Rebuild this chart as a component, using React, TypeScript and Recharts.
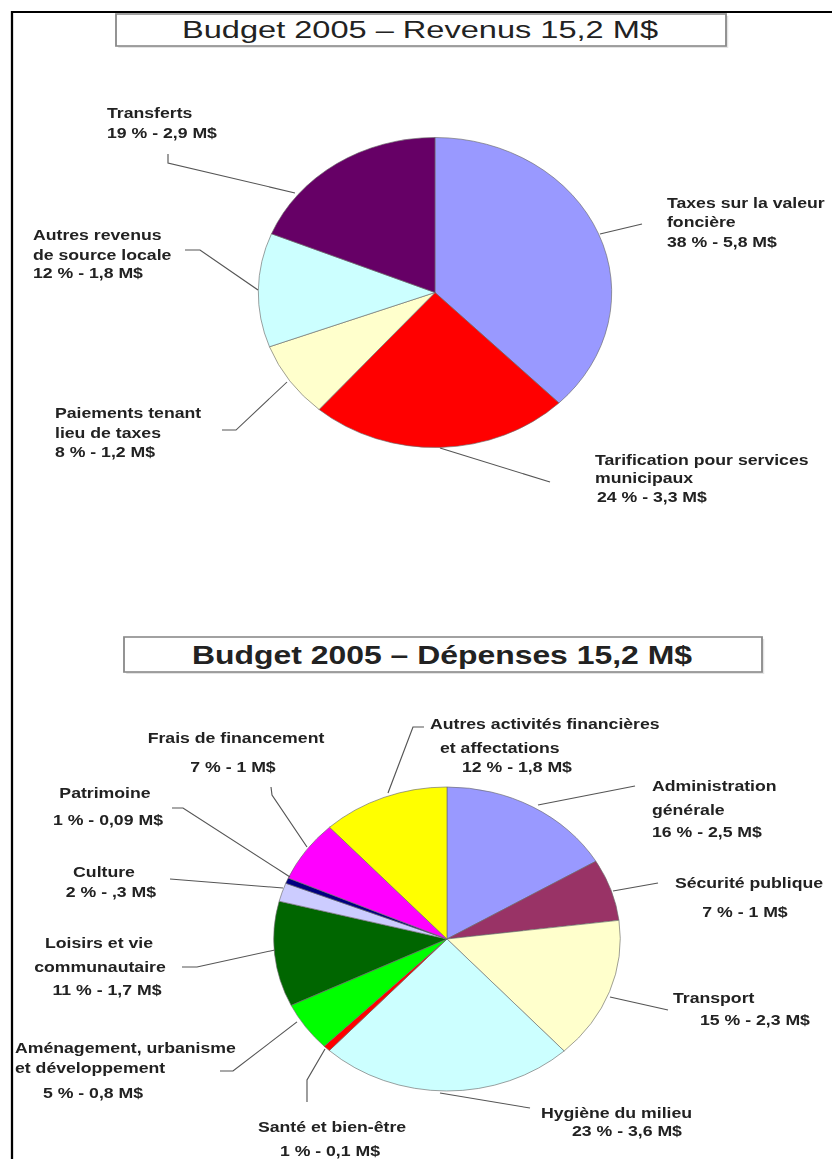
import React from 'react';
import { PieChart, Pie, Cell } from 'recharts';

// the scanned page is stretched sideways, so everything is drawn narrow and widened once
const S = 1.14;
const W = 832;
const H = 1159;
const IW = W / S;

// Revenus
const revNames = [
  'Taxes sur la valeur\nfoncière',
  'Tarification pour services\nmunicipaux',
  'Paiements tenant\nlieu de taxes',
  'Autres revenus\nde source locale',
  'Transferts',
];
const revPct = [38, 24, 8, 12, 19];
const revAmounts = ['5,8', '3,3', '1,2', '1,8', '2,9'];
const revColors = ['#9999FF', '#FF0000', '#FFFFCC', '#CCFFFF', '#660066'];

// Dépenses
const depNames = [
  'Administration\ngénérale',
  'Sécurité publique',
  'Transport',
  'Hygiène du milieu',
  'Santé et bien-être',
  'Aménagement, urbanisme\net développement',
  'Loisirs et vie\ncommunautaire',
  'Culture',
  'Patrimoine',
  'Frais de financement',
  'Autres activités financières\net affectations',
];
const depValues = [2.5, 1, 2.3, 3.6, 0.1, 0.8, 1.7, 0.3, 0.09, 1, 1.8];
const depPct = [16, 7, 15, 23, 1, 5, 11, 2, 1, 7, 12];
const depAmounts = ['2,5', '1', '2,3', '3,6', '0,1', '0,8', '1,7', ',3', '0,09', '1', '1,8'];
const depColors = [
  '#9999FF', '#993366', '#FFFFCC', '#CCFFFF', '#FF0000', '#00FF00',
  '#006600', '#CCCCFF', '#000080', '#FF00FF', '#FFFF00',
];

const revData = revNames.map((name, i) => ({ name, value: revPct[i] }));
const depData = depNames.map((name, i) => ({ name, value: depValues[i] }));

// label placement on the page (line centres) and leader lines
type LabelPos = { anchor: 'start' | 'middle'; lines: number[][]; leader: number[][] };

const revLabelPos: LabelPos[] = [
  { anchor: 'start', lines: [[667, 203], [667, 222], [667, 242]], leader: [[600, 234], [642, 224]] },
  { anchor: 'start', lines: [[595, 460], [595, 478], [597, 497]], leader: [[440, 448], [550, 482]] },
  { anchor: 'start', lines: [[55, 413], [55, 433], [55, 452]], leader: [[222, 430], [236, 430], [287, 382]] },
  { anchor: 'start', lines: [[33, 235], [33, 255], [33, 273]], leader: [[185, 250], [200, 250], [258, 290]] },
  { anchor: 'start', lines: [[107, 113], [107, 133]], leader: [[168, 154], [168, 163], [295, 193]] },
];

const depLabelPos: LabelPos[] = [
  { anchor: 'start', lines: [[652, 786], [652, 810], [652, 832]], leader: [[538, 805], [635, 786]] },
  { anchor: 'middle', lines: [[749, 883], [745, 912]], leader: [[613, 891], [658, 883]] },
  { anchor: 'start', lines: [[673, 998], [700, 1020]], leader: [[610, 997], [668, 1010]] },
  { anchor: 'start', lines: [[541, 1113], [572, 1131]], leader: [[440, 1093], [530, 1108]] },
  { anchor: 'middle', lines: [[332, 1127], [330, 1151]], leader: [[325, 1049], [307, 1080], [307, 1102]] },
  { anchor: 'start', lines: [[15, 1048], [15, 1068], [43, 1093]], leader: [[220, 1071], [233, 1071], [297, 1022]] },
  { anchor: 'middle', lines: [[99, 943], [100, 967], [107, 990]], leader: [[182, 967], [197, 967], [275, 950]] },
  { anchor: 'middle', lines: [[104, 872], [111, 892]], leader: [[170, 879], [283, 888]] },
  { anchor: 'middle', lines: [[105, 793], [108, 820]], leader: [[172, 808], [183, 808], [290, 877]] },
  { anchor: 'middle', lines: [[236, 738], [233, 767]], leader: [[271, 787], [272, 795], [307, 847]] },
  { anchor: 'start', lines: [[430, 724], [440, 748], [462, 767]], leader: [[424, 727], [413, 727], [388, 793]] },
];

const labelFont = "'Liberation Sans', Arial, sans-serif";

function makeLabel(names: string[], pct: number[], amounts: string[], pos: LabelPos[]) {
  return (props: any) => {
    const i = props.index;
    const p = pos[i];
    const texts = [...names[i].split('\n'), `${pct[i]} % - ${amounts[i]} M$`];
    return (
      <g key={`lbl-${i}`}>
        <polyline
          points={p.leader.map(([x, y]) => `${x / S},${y}`).join(' ')}
          fill="none"
          stroke="#555"
          strokeWidth={1}
        />
        {texts.map((t, j) => (
          <text
            key={j}
            x={p.lines[j][0] / S}
            y={p.lines[j][1] + 5}
            textAnchor={p.anchor}
            fontFamily={labelFont}
            fontWeight="bold"
            fontSize={15.5}
            fill="#222"
          >
            {t}
          </text>
        ))}
      </g>
    );
  };
}

function TitleBox({ x1, x2, y1, y2, text, textX, textW, baseline, size, weight }: any) {
  return (
    <g>
      <rect x={x1 / S + 2} y={y1 + 2} width={(x2 - x1) / S} height={y2 - y1} fill="#e4e4e4" />
      <rect x={x1 / S} y={y1} width={(x2 - x1) / S} height={y2 - y1} fill="#fff" stroke="#8a8a8a" strokeWidth={1.6} />
      <text
        x={textX / S}
        y={baseline}
        textAnchor="middle"
        fontFamily={labelFont}
        fontSize={size}
        fontWeight={weight}
        fill="#222"
        textLength={textW / S}
        lengthAdjust="spacingAndGlyphs"
      >
        {text}
      </text>
    </g>
  );
}

export default function App() {
  return (
    <div style={{ position: 'absolute', left: 0, top: 0, width: W, height: H, overflow: 'hidden', background: '#fff' }}>
      <div style={{ position: 'absolute', left: 0, top: 0, width: IW, height: H, transform: `scaleX(${S})`, transformOrigin: '0 0' }}>
        <svg width={IW} height={H} style={{ position: 'absolute', left: 0, top: 0 }}>
          <rect x={12 / S} y={12} width={IW} height={H} fill="none" stroke="#000" strokeWidth={2} />
          <TitleBox x1={116} x2={726} y1={14} y2={46} text="Budget 2005  –  Revenus 15,2 M$"
            textX={420} textW={476} baseline={38.5} size={24} weight="normal" />
          <TitleBox x1={124} x2={762} y1={637} y2={672} text="Budget 2005  –  Dépenses 15,2 M$"
            textX={442} textW={500} baseline={664} size={25.5} weight="bold" />
        </svg>
        <div style={{ position: 'absolute', left: 0, top: 0 }}>
          <PieChart width={IW} height={H} margin={{ top: 0, right: 0, bottom: 0, left: 0 }}>
            <Pie
              data={revData}
              dataKey="value"
              nameKey="name"
              cx={435 / S}
              cy={292.5}
              outerRadius={155}
              startAngle={90}
              endAngle={-270}
              stroke="#6a6a6a"
              strokeWidth={0.6}
              labelLine={false}
              label={makeLabel(revNames, revPct, revAmounts, revLabelPos)}
              isAnimationActive={false}
            >
              {revData.map((d, i) => (
                <Cell key={d.name} fill={revColors[i]} />
              ))}
            </Pie>
            <Pie
              data={depData}
              dataKey="value"
              nameKey="name"
              cx={447 / S}
              cy={939}
              outerRadius={152}
              startAngle={90}
              endAngle={-270}
              stroke="#6a6a6a"
              strokeWidth={0.6}
              labelLine={false}
              label={makeLabel(depNames, depPct, depAmounts, depLabelPos)}
              isAnimationActive={false}
            >
              {depData.map((d, i) => (
                <Cell key={d.name} fill={depColors[i]} />
              ))}
            </Pie>
          </PieChart>
        </div>
      </div>
    </div>
  );
}
